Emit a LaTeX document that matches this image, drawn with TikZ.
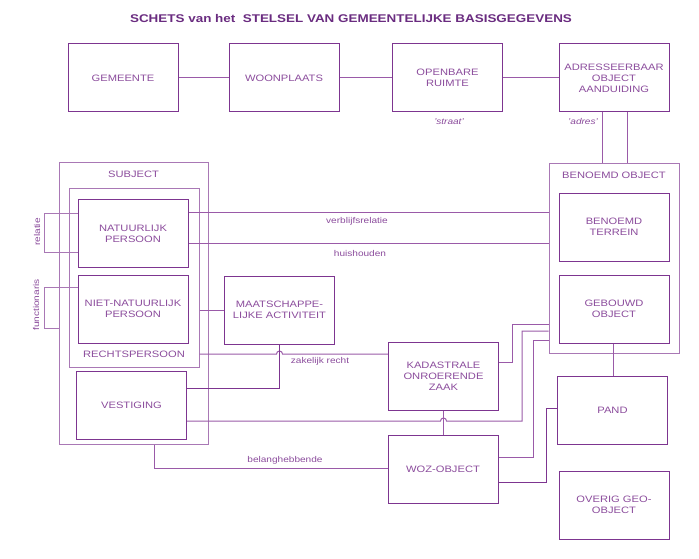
\documentclass[tikz,border=0pt]{standalone}
\usepackage{fontspec}
\setmainfont{Liberation Sans}[FakeStretch=1.2]
\usetikzlibrary{positioning}
\definecolor{boxc}{HTML}{7D3590}
\definecolor{contc}{HTML}{A978B5}
\definecolor{linec}{HTML}{9A5AA8}
\definecolor{txtc}{HTML}{8B4C9C}
\definecolor{titc}{HTML}{6A2C80}
\tikzset{
  ent/.style={draw=boxc, line width=1pt, minimum width=110pt, minimum height=68pt, inner sep=0pt,
    align=center, text=txtc, font=\fontsize{9.3}{11.2}\selectfont},
  cont/.style={draw=contc, line width=1pt, inner sep=0pt},
  conn/.style={draw=linec, line width=1pt},
  lbl/.style={text=txtc, font=\fontsize{8.4}{10}\selectfont, inner sep=0pt},
  ctitle/.style={text=txtc, font=\fontsize{9.3}{11}\selectfont, inner sep=0pt}
}
\begin{document}
\begin{tikzpicture}[x=1pt, y=-1pt]
\useasboundingbox (0,0) rectangle (699,559);
% title
\node[text=titc, font=\fontsize{11.2}{13}\selectfont\bfseries, inner sep=0pt] (title) at (351,18)
  {SCHETS van het\ \ STELSEL VAN GEMEENTELIJKE BASISGEGEVENS};
% containers
\node[cont, minimum width=130pt, minimum height=189pt] (bo) at (614,258.5) {};
\node[ctitle] (botitle) at (614,175) {BENOEMD OBJECT};
\node[cont, minimum width=149pt, minimum height=281pt] (subj) at (133.5,303.5) {};
\node[ctitle] (subjtitle) at (133.5,174) {SUBJECT};
\node[cont, minimum width=130pt, minimum height=179pt] (rp) at (134,277.5) {};
\node[ctitle] (rptitle) at (134,354.5) {RECHTSPERSOON};
% top row
\node[ent] (gem) at (123,78) {GEMEENTE};
\node[ent] (woon) at (284,78) {WOONPLAATS};
\node[ent] (opr) at (447.5,78) {OPENBARE\\RUIMTE};
\node[ent] (adr) at (614,78) {ADRESSEERBAAR\\OBJECT\\AANDUIDING};
% right column
\node[ent] (bt) at (614,227) {BENOEMD\\TERREIN};
\node[ent] (geb) at (614,309) {GEBOUWD\\OBJECT};
\node[ent] (pand) at (612.5,410) {PAND};
\node[ent] (geo) at (614,505) {OVERIG GEO-\\OBJECT};
% middle
\node[ent] (kad) at (443.5,376.5) {KADASTRALE\\ONROERENDE\\ZAAK};
\node[ent] (woz) at (443,469.5) {WOZ-OBJECT};
\node[ent] (maat) at (279.5,310) {MAATSCHAPPE-\\LIJKE ACTIVITEIT};
% left
\node[ent] (nat) at (133,233.5) {NATUURLIJK\\PERSOON};
\node[ent] (niet) at (133,309) {NIET-NATUURLIJK\\PERSOON};
\node[ent] (vest) at (131.5,405) {VESTIGING};
% top row connectors
\draw[conn] (gem) -- (woon);
\draw[conn] (woon) -- (opr);
\draw[conn] (opr) -- (adr);
\node[lbl, font=\fontsize{8.4}{10}\selectfont\itshape] (straat) at (449,122) {'straat'};
\node[lbl, font=\fontsize{8.4}{10}\selectfont\itshape] (adres) at (583,122) {'adres'};
\draw[conn] (adr.south -| 602,0) -- (bo.north -| 602,0);
\draw[conn] (adr.south -| 627,0) -- (bo.north -| 627,0);
% natuurlijk persoon relations
\draw[conn] (nat.east |- 0,212.3) -- (bo.west |- 0,212.3);
\draw[conn] (nat.east |- 0,243.5) -- (bo.west |- 0,243.5);
\node[lbl] (verbl) at (357,221) {verblijfsrelatie};
\node[lbl] (huis) at (360,253) {huishouden};
% relatie bracket
\draw[conn, draw=contc] (nat.west |- 0,213) -- (44,213) -- (44,252) -- (nat.west |- 0,252);
\node[lbl, rotate=90] (relatie) at (37,232) {relatie};
% functionaris bracket
\draw[conn, draw=contc] (niet.west |- 0,287) -- (44,287) -- (44,328) -- (subj.west |- 0,328);
\node[lbl, rotate=90] (func) at (36,305) {functionaris};
% rechtspersoon - maatschappelijke activiteit
\draw[conn] (rp.east |- maat.west) -- (maat.west);
% zakelijk recht with hop
\draw[conn] (rp.east |- 0,354) -- (276.5,354) arc[start angle=180, end angle=0, radius=3pt] -- (kad.west |- 0,354);
\node[lbl] (zak) at (320,361) {zakelijk recht};
\draw[conn, draw=boxc] (maat.south) -- (maat.south |- 0,388) -- (vest.east |- 0,388);
% vestiging to benoemd object with hop
\draw[conn] (vest.east |- 0,421) -- (440.5,421) arc[start angle=180, end angle=0, radius=3pt] -- (522,421) -- (522,331) -- (bo.west |- 0,331);
% kadastrale to benoemd object
\draw[conn] (kad.east |- 0,362) -- (512,362) -- (512,324) -- (bo.west |- 0,324);
% kadastrale to woz
\draw[conn] (kad.south) -- (woz.north -| kad.south);
% woz to benoemd object
\draw[conn] (woz.east |- 0,457) -- (533,457) -- (533,340) -- (bo.west |- 0,340);
% pand to woz
\draw[conn, draw=boxc] (pand.west |- 0,408) -- (546,408) -- (546,482) -- (woz.east |- 0,482);
% gebouwd object to pand
\draw[conn] (geb.south -| 613,0) -- (pand.north -| 613,0);
% belanghebbende
\draw[conn] (subj.south -| 154,0) -- (154,468.5) -- (woz.west |- 0,468.5);
\node[lbl] (bel) at (285,460) {belanghebbende};
\end{tikzpicture}
\end{document}
